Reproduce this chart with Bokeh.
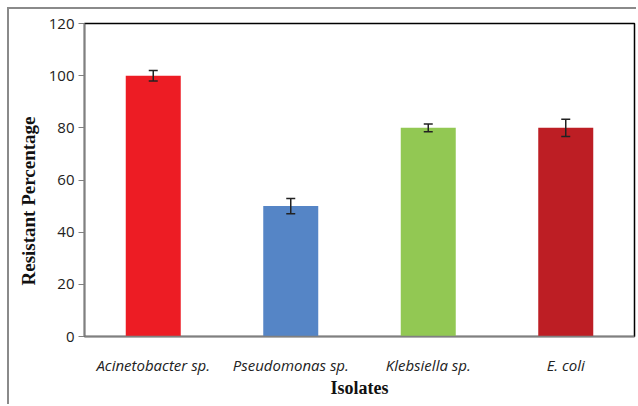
from bokeh.plotting import figure
from bokeh.models import ColumnDataSource, Whisker, FixedTicker, Range1d, Title, TeeHead
from bokeh.embed import file_html
from bokeh.resources import INLINE

isolates = ["Acinetobacter sp.", "Pseudomonas sp.", "Klebsiella sp.", "E. coli"]
resistant = [100, 50, 80, 80]
err = [2.0, 2.9, 1.5, 3.3]
colors = ["#ED1C24", "#5585C6", "#92C853", "#BD1E24"]
y_ticks = [0, 20, 40, 60, 80, 100, 120]

src = ColumnDataSource(dict(
    x=isolates, top=resistant, color=colors,
    upper=[v + e for v, e in zip(resistant, err)],
    lower=[v - e for v, e in zip(resistant, err)],
))

p = figure(x_range=isolates, y_range=Range1d(0, 120), width=629, height=397,
           output_backend="svg", toolbar_location=None,
           min_border_left=74, min_border_top=14, min_border_right=4, min_border_bottom=70)
p.x_range.range_padding = 0

p.vbar(x="x", top="top", width=0.4, color="color", line_color=None, source=src)
w = Whisker(base="x", upper="upper", lower="lower", source=src, line_color="#222222",
            line_width=1.5, level="overlay")
w.upper_head = TeeHead(size=9, line_color="#222222", line_width=1.5)
w.lower_head = TeeHead(size=9, line_color="#222222", line_width=1.5)
p.add_layout(w)

p.xgrid.visible = False
p.ygrid.visible = False
p.outline_line_color = "black"
p.outline_line_width = 1.5
p.outline_line_alpha = 1

p.yaxis.ticker = FixedTicker(ticks=y_ticks)
p.yaxis.minor_tick_line_color = None
p.yaxis.major_tick_in = 0
p.yaxis.major_tick_out = 6
p.yaxis.major_tick_line_color = "#808080"
p.yaxis.axis_line_color = "#808080"
p.yaxis.axis_line_width = 1.5
p.yaxis.major_label_standoff = 4
p.yaxis.major_label_text_font = "Open Sans"
p.yaxis.major_label_text_font_size = "15px"
p.yaxis.major_label_text_color = "#222222"

p.xaxis.major_tick_line_color = None
p.xaxis.axis_line_color = "#808080"
p.xaxis.axis_line_width = 1.5
p.xaxis.major_label_standoff = 12
p.xaxis.major_label_text_font = "Open Sans"
p.xaxis.major_label_text_font_style = "italic"
p.xaxis.major_label_text_font_size = "15px"
p.xaxis.major_label_text_color = "#222222"
p.xaxis.axis_label = "Isolates"
p.xaxis.axis_label_text_font = "Liberation Serif"
p.xaxis.axis_label_text_font_style = "bold"
p.xaxis.axis_label_text_font_size = "18px"
p.xaxis.axis_label_text_color = "#111111"
p.xaxis.axis_label_standoff = 0

t = Title(text="Resistant Percentage", align="left", offset=51, standoff=13,
          text_font="Liberation Serif", text_font_style="bold", text_font_size="19px",
          text_color="#111111")
p.add_layout(t, "left")

p.styles = {"margin-left": "7px", "margin-top": "7px",
            "border-left": "2px solid #8a8a8a", "border-top": "2px solid #8a8a8a"}

open("out.html", "w").write(file_html(p, INLINE))
